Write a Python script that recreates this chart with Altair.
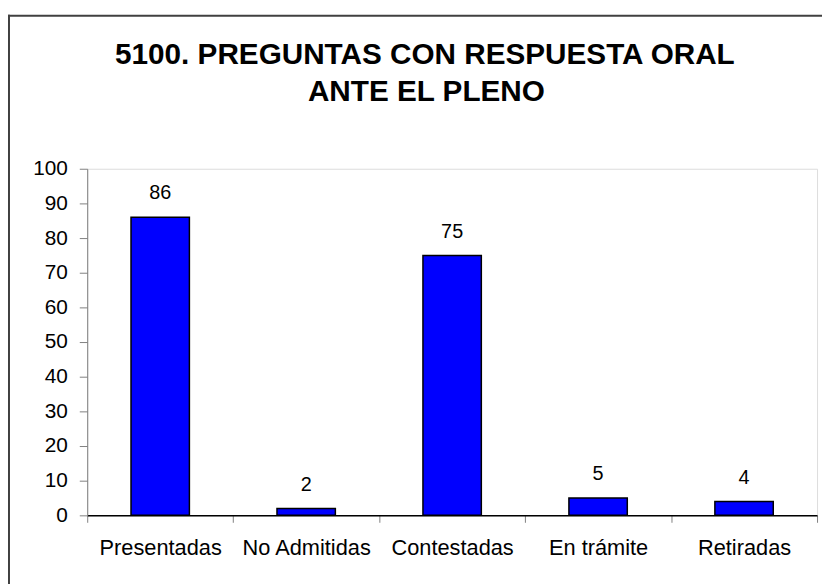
import altair as alt
import pandas as pd

categories = ["Presentadas", "No Admitidas", "Contestadas", "En trámite", "Retiradas"]
values = [86, 2, 75, 5, 4]
title_lines = ["5100. PREGUNTAS CON RESPUESTA ORAL", "ANTE EL PLENO"]
y_ticks = list(range(0, 101, 10))

df = pd.DataFrame({"cat": categories, "val": values})
FONT = "Liberation Sans"

x = alt.X(
    "cat:N",
    sort=categories,
    title=None,
    scale=alt.Scale(paddingInner=0, paddingOuter=0),
    axis=alt.Axis(
        labelAngle=0,
        labelFontSize=22,
        labelFont=FONT,
        labelColor="#000",
        labelPadding=16,
        labelOverlap=False,
        tickBand="extent",
        tickSize=7,
        tickColor="#808080",
        domainColor="#000",
        domainWidth=1.5,
        grid=False,
    ),
)
y = alt.Y(
    "val:Q",
    title=None,
    scale=alt.Scale(domain=[0, 100], nice=False),
    axis=alt.Axis(
        values=y_ticks,
        labelFontSize=21,
        labelFont=FONT,
        labelColor="#000",
        labelPadding=12,
        labelOverlap=False,
        labelFlush=False,
        tickSize=8,
        tickColor="#808080",
        domainColor="#808080",
        grid=False,
    ),
)

base = alt.Chart(df)
bars = base.mark_bar(
    color="#0000FF", stroke="#000", strokeWidth=1.5, width=alt.RelativeBandSize(0.4)
).encode(x=x, y=y)
labels = base.mark_text(
    fontSize=20, font=FONT, color="#000", dy=-18, baseline="alphabetic"
).encode(x=x, y=y, text="val:Q")

one = pd.DataFrame({"k": [0]})
title1 = alt.Chart(one).mark_text(
    font=FONT, fontSize=30, fontWeight="bold", color="#000", baseline="alphabetic", align="center"
).encode(x=alt.value(341), y=alt.value(-105.5), text=alt.value(title_lines[0]))
title2 = alt.Chart(one).mark_text(
    font=FONT, fontSize=30, fontWeight="bold", color="#000", baseline="alphabetic", align="center"
).encode(x=alt.value(342.5), y=alt.value(-68.5), text=alt.value(title_lines[1]))

left_line = alt.Chart(one).mark_rule(color="#404040", strokeWidth=2).encode(
    x=alt.value(-79), y=alt.value(-155.5), y2=alt.value(420)
)
top_line = alt.Chart(one).mark_rule(color="#404040", strokeWidth=2).encode(
    x=alt.value(-80), x2=alt.value(745), y=alt.value(-154.5)
)

chart = (
    alt.layer(bars, labels, title1, title2, left_line, top_line)
    .properties(
        width=737,
        height=350,
        autosize=alt.AutoSizeParams(type="none"),
        padding={"left": 80, "top": 159.5, "right": 5, "bottom": 66.5},
    )
    .configure_view(stroke=None)
    .configure(background="white")
)

chart.save("out.html", embed_options={"renderer": "svg", "actions": False})
